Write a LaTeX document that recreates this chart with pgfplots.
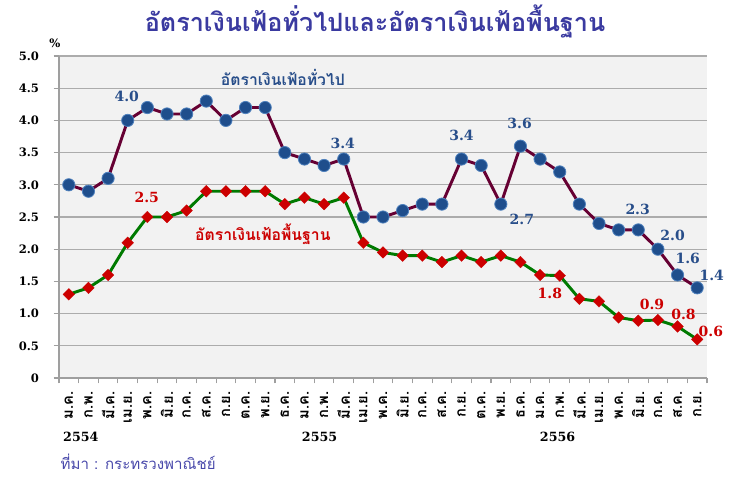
\documentclass[border=0pt]{standalone}
\usepackage{fontspec}
\setmainfont{DejaVu Serif}
\newfontfamily\thai[Script=Thai]{Loma}
\usepackage{pgfplots}
\pgfplotsset{compat=1.18}
\definecolor{titlec}{RGB}{58,58,160}
\definecolor{srcc}{RGB}{72,72,170}
\definecolor{bgc}{RGB}{242,242,242}
\definecolor{maroon}{RGB}{102,0,51}
\definecolor{mblue}{RGB}{31,78,140}
\definecolor{mblueedge}{RGB}{79,129,189}
\definecolor{lblue}{RGB}{40,78,138}
\definecolor{cgreen}{RGB}{0,122,0}
\definecolor{cred}{RGB}{204,0,0}
\begin{document}
\begin{tikzpicture}
\useasboundingbox (0pt,0pt) rectangle (552pt,357pt);
\node[font=\thai\bfseries\fontsize{18.9}{19}\selectfont, text=titlec] at (281.25pt,341pt) {อัตราเงินเฟ้อทั่วไปและอัตราเงินเฟ้อพื้นฐาน};
\node[anchor=west, font=\thai\fontsize{11.3}{11}\selectfont, text=srcc] at (42pt,11pt) {ที่มา : กระทรวงพาณิชย์};
\begin{axis}[
  at={(44.25pt,73.5pt)}, anchor=south west,
  scale only axis, width=486pt, height=241.5pt,
  xmin=-0.5, xmax=32.5, ymin=0, ymax=5,
  clip=false,
  axis background/.style={fill=bgc},
  axis x line*=bottom, axis y line*=left,
  axis line style={draw=gray!75, line width=0.8pt, -},
  ymajorgrids, grid style={draw=gray!65, line width=0.8pt},
  ytick={0,0.5,1,1.5,2,2.5,3,3.5,4,4.5,5},
  yticklabels={0,0.5,1.0,1.5,2.0,2.5,3.0,3.5,4.0,4.5,5.0},
  yticklabel style={font=\bfseries\fontsize{8.7}{9}\selectfont, xshift=-7.5pt},
  tick align=outside,
  major tick length=4pt, minor tick length=4pt,
  tick style={draw=gray!75, line width=0.8pt},
  xtick={0,...,32},
  xticklabels={ม.ค.,ก.พ.,มี.ค.,เม.ย.,พ.ค.,มิ.ย.,ก.ค.,ส.ค.,ก.ย.,ต.ค.,พ.ย.,ธ.ค.,ม.ค.,ก.พ.,มี.ค.,เม.ย.,พ.ค.,มิ.ย.,ก.ค.,ส.ค.,ก.ย.,ต.ค.,พ.ย.,ธ.ค.,ม.ค.,ก.พ.,มี.ค.,เม.ย.,พ.ค.,มิ.ย.,ก.ค.,ส.ค.,ก.ย.},
  major x tick style={draw=none},
  minor xtick={-0.5,0.5,...,32.5},
  xticklabel style={rotate=90, anchor=east, font=\thai\bfseries\fontsize{11}{11}\selectfont, inner xsep=6pt},
  /pgf/number format/assume math mode=true,
]
\addplot[color=maroon, line width=2.2pt, mark=*, mark size=4.6pt,
  mark options={fill=mblue, draw=mblueedge, line width=0.6pt}]
  coordinates {
  (0,3.0)(1,2.9)(2,3.1)(3,4.0)(4,4.2)(5,4.1)(6,4.1)(7,4.3)(8,4.0)(9,4.2)(10,4.2)(11,3.5)
  (12,3.4)(13,3.3)(14,3.4)(15,2.5)(16,2.5)(17,2.6)(18,2.7)(19,2.7)(20,3.4)(21,3.3)(22,2.7)(23,3.6)
  (24,3.4)(25,3.2)(26,2.7)(27,2.4)(28,2.3)(29,2.3)(30,2.0)(31,1.6)(32,1.4)};
\addplot[color=cgreen, line width=2.2pt, mark=square*, mark size=3.1pt,
  mark options={fill=cred, draw=cred, rotate=45, line width=0.2pt}]
  coordinates {
  (0,1.3)(1,1.4)(2,1.6)(3,2.1)(4,2.5)(5,2.5)(6,2.6)(7,2.9)(8,2.9)(9,2.9)(10,2.9)(11,2.7)
  (12,2.8)(13,2.7)(14,2.8)(15,2.1)(16,1.95)(17,1.9)(18,1.9)(19,1.8)(20,1.9)(21,1.8)(22,1.9)(23,1.8)
  (24,1.6)(25,1.59)(26,1.23)(27,1.19)(28,0.94)(29,0.89)(30,0.9)(31,0.8)(32,0.6)};
% data labels
\begin{scope}[every node/.style={font=\bfseries\fontsize{10.5}{11}\selectfont, text=lblue}]
\node at (axis cs:2.95,4.38) {4.0};
\node at (axis cs:13.95,3.64) {3.4};
\node at (axis cs:20.0,3.76) {3.4};
\node at (axis cs:22.96,3.95) {3.6};
\node at (axis cs:23.07,2.47) {2.7};
\node at (axis cs:28.97,2.62) {2.3};
\node at (axis cs:30.75,2.21) {2.0};
\node at (axis cs:31.52,1.85) {1.6};
\node at (axis cs:32.74,1.60) {1.4};
\end{scope}
\begin{scope}[every node/.style={font=\bfseries\fontsize{10.5}{11}\selectfont, text=cred}]
\node at (axis cs:3.97,2.81) {2.5};
\node at (axis cs:24.5,1.31) {1.8};
\node at (axis cs:29.7,1.15) {0.9};
\node at (axis cs:31.3,0.99) {0.8};
\node at (axis cs:32.7,0.72) {0.6};
\end{scope}
\node[font=\thai\bfseries\fontsize{11.8}{12}\selectfont, text=lblue] at (axis cs:10.9,4.66) {อัตราเงินเฟ้อทั่วไป};
\node[font=\thai\bfseries\fontsize{11.8}{12}\selectfont, text=cred] at (axis cs:9.88,2.24) {อัตราเงินเฟ้อพื้นฐาน};
% year labels
\begin{scope}[every node/.style={font=\bfseries\fontsize{9.5}{10}\selectfont, anchor=west, inner sep=0pt}]
\node at ([yshift=-44pt]axis cs:-0.3,0) {2554};
\node at ([yshift=-44pt]axis cs:11.86,0) {2555};
\node at ([yshift=-44pt]axis cs:23.98,0) {2556};
\end{scope}
\node[font=\bfseries\fontsize{8.7}{9}\selectfont, anchor=south] at ([xshift=-3pt,yshift=2.5pt]rel axis cs:0,1) {\%};
\end{axis}
\end{tikzpicture}
\end{document}
